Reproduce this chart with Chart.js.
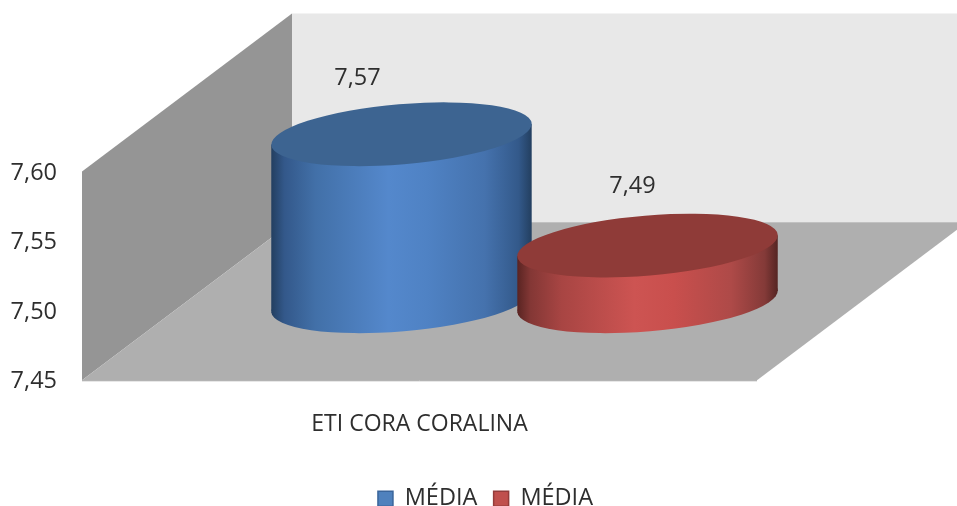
<!DOCTYPE html>
<html>
<head>
<meta charset="utf-8">
<title>ETI CORA CORALINA</title>
<script src="https://cdn.jsdelivr.net/npm/chart.js@4"></script>
<style>
    body { margin: 0; background: #fff; }
    #box { width: 957px; height: 506px; }
</style>
</head>
<body>
<div id="box"><canvas id="grafico"></canvas></div>
<script>
// DADOS
const categorias = ['ETI CORA CORALINA'];
const mediaAzul = [7.57];
const mediaVermelha = [7.49];
const nomeSeries = ['MÉDIA', 'MÉDIA'];
const ticksY = [7.45, 7.50, 7.55, 7.60];

// profundidade do "3D" do grafico
const depthX = 210;
const depthY = -158;
const fonte = '"Open Sans", sans-serif';
const corTexto = '#2e2e2e';
const virgula = v => v.toFixed(2).replace('.', ',');

const estilos = [
    {
        topo: '#3d6491',
        lado: ['#233f60', '#33588a', '#4270a8', '#5488cc', '#4f82c4', '#4572ad', '#33598a', '#233f60'],
        labelX: -44, labelY: -56
    },
    {
        topo: '#8f3b38',
        lado: ['#592422', '#833735', '#a84543', '#cd5452', '#c94f4d', '#ae4a48', '#843a38', '#552523'],
        labelX: -15, labelY: -59
    }
];
const paradas = [0, 0.05, 0.17, 0.45, 0.6, 0.82, 0.95, 1];

function poligono(ctx, pts, cor) {
    ctx.beginPath();
    pts.forEach((p, i) => i ? ctx.lineTo(p[0], p[1]) : ctx.moveTo(p[0], p[1]));
    ctx.closePath();
    ctx.fillStyle = cor;
    ctx.fill();
}

function paredes(chart) {
    const ctx = chart.ctx;
    const { left, right, top, bottom } = chart.chartArea;
    // fundo
    poligono(ctx, [[left + depthX, top + depthY], [right + depthX, top + depthY],
        [right + depthX, bottom + depthY], [left + depthX, bottom + depthY]], '#e8e8e8');
    // parede esquerda
    poligono(ctx, [[left, top], [left + depthX, top + depthY],
        [left + depthX, bottom + depthY], [left, bottom]], '#959595');
    // chao
    poligono(ctx, [[left, bottom], [right, bottom],
        [right + depthX, bottom + depthY], [left + depthX, bottom + depthY]], '#afafaf');
    ctx.strokeStyle = '#a0a0a0';
    ctx.lineWidth = 1;
    ctx.beginPath();
    ctx.moveTo(left, bottom + 0.5);
    ctx.lineTo(right, bottom + 0.5);
    ctx.stroke();
}

function cilindro(ctx, bar, estilo) {
    const cx = bar.x + depthX / 2;
    const topoY = bar.y + depthY / 2;
    const baseY = bar.base + depthY / 2;
    const a = bar.width * 0.531;
    const b = a * 0.23;
    const ang = -4.8 * Math.PI / 180;
    const ext = Math.sqrt(a * a * Math.cos(ang) ** 2 + b * b * Math.sin(ang) ** 2);
    const off = (a * a - b * b) * Math.sin(ang) * Math.cos(ang) / ext;

    const grad = ctx.createLinearGradient(cx - ext, 0, cx + ext, 0);
    estilo.lado.forEach((c, i) => grad.addColorStop(paradas[i], c));
    ctx.fillStyle = grad;

    ctx.beginPath();
    ctx.ellipse(cx, baseY, a, b, ang, 0, Math.PI * 2);
    ctx.fill();
    ctx.beginPath();
    ctx.moveTo(cx - ext, topoY - off);
    ctx.lineTo(cx + ext, topoY + off);
    ctx.lineTo(cx + ext, baseY + off);
    ctx.lineTo(cx - ext, baseY - off);
    ctx.closePath();
    ctx.fill();

    ctx.fillStyle = estilo.topo;
    ctx.beginPath();
    ctx.ellipse(cx, topoY, a, b, ang, 0, Math.PI * 2);
    ctx.fill();
}

const plugin3d = {
    id: 'plugin3d',
    // legenda fica centrada na figura toda, nao so na area do grafico
    afterLayout(chart) {
        chart.legend.left += 107;
        chart.legend.right += 107;
    },
    beforeDatasetsDraw(chart) {
        const ctx = chart.ctx;
        ctx.save();
        paredes(chart);
        chart.data.datasets.forEach((ds, i) => {
            cilindro(ctx, chart.getDatasetMeta(i).data[0], estilos[i]);
        });
        chart.data.datasets.forEach((ds, i) => {
            const bar = chart.getDatasetMeta(i).data[0];
            ctx.font = '23.5px ' + fonte;
            ctx.fillStyle = corTexto;
            ctx.textAlign = 'center';
            ctx.textBaseline = 'middle';
            ctx.fillText(virgula(ds.data[0]),
                bar.x + depthX / 2 + estilos[i].labelX,
                bar.y + depthY / 2 + estilos[i].labelY);
        });
        ctx.restore();
        return false;
    }
};

new Chart(document.getElementById('grafico'), {
    type: 'bar',
    plugins: [plugin3d],
    data: {
        labels: categorias,
        datasets: [
            { label: nomeSeries[0], data: mediaAzul, base: ticksY[0], backgroundColor: '#4f81bd', borderColor: '#3a659b', borderWidth: 1.5 },
            { label: nomeSeries[1], data: mediaVermelha, base: ticksY[0], backgroundColor: '#c0504d', borderColor: '#943c3a', borderWidth: 1.5 }
        ]
    },
    options: {
        responsive: true,
        maintainAspectRatio: false,
        animation: false,
        categoryPercentage: 0.729,
        barPercentage: 1,
        layout: { padding: { top: 171.5, right: 200, left: 0, bottom: -14.5 } },
        plugins: {
            tooltip: { enabled: false },
            legend: {
                position: 'bottom',
                labels: { color: corTexto, boxWidth: 15, boxHeight: 15, padding: 16.25, font: { family: fonte, size: 23.5 } }
            }
        },
        scales: {
            x: {
                grid: { display: false },
                border: { display: false },
                afterFit(scale) { scale.height = 90.5; },
                ticks: { color: corTexto, padding: 22, font: { family: fonte, size: 23 } }
            },
            y: {
                min: ticksY[0],
                max: ticksY[ticksY.length - 1],
                afterFit(scale) { scale.width = 82; },
                afterBuildTicks(scale) { scale.ticks = ticksY.map(v => ({ value: v })); },
                grid: { display: false },
                border: { display: false },
                ticks: {
                    color: corTexto,
                    padding: 17,
                    labelOffset: 1.5,
                    font: { family: fonte, size: 23.5 },
                    callback: v => virgula(v)
                }
            }
        }
    }
});
</script>
</body>
</html>
